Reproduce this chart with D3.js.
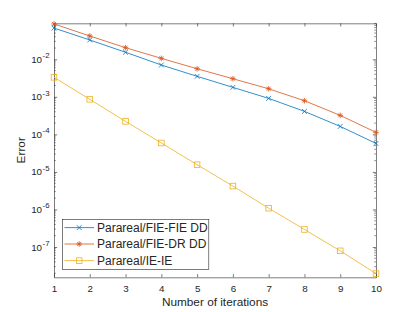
<!DOCTYPE html>
<html><head><meta charset="utf-8">
<script src="https://cdn.jsdelivr.net/npm/d3@7"></script>
<style>
body{margin:0;background:#fff;}
text{font-family:"Liberation Sans",Arial,sans-serif;fill:#262626;}
</style></head>
<body><svg id="c" width="415" height="312"></svg>
<script>
const iterations = [1,2,3,4,5,6,7,8,9,10];
const fieFieDD = [0.068,0.0327,0.0154,0.00705,0.00352,0.00179,0.00091,0.00041,0.000163,5.75e-5];
const fieDrDD = [0.0873,0.0418,0.0204,0.0106,0.0056,0.00304,0.00164,0.000787,0.000321,0.000113];
const ieIe = [0.00331,0.000858,0.000222,5.9e-5,1.56e-5,4.2e-6,1.08e-6,2.93e-7,7.9e-8,1.96e-8];
const seriesNames = ["Parareal/FIE-FIE DD","Parareal/FIE-DR DD","Parareal/IE-IE"];
const xTicks = [1,2,3,4,5,6,7,8,9,10];
const yTickExps = [-7,-6,-5,-4,-3,-2];
const yDomain = [Math.pow(10,-7.807), Math.pow(10,-1.041)];

const svg = d3.select("#c");
const L=54, R=376, T=23.3, B=277.3;
const x = d3.scaleLinear().domain([1,10]).range([L,R]);
const y = d3.scaleLog().domain(yDomain).range([B,T]);
const axisCol = "#262626";

const g = svg.append("g");
// minor ticks
const minor = [];
for(let e=-8;e<=-1;e++){ for(let m=2;m<=9;m++){ const v=m*Math.pow(10,e); if(v>=yDomain[0]&&v<=yDomain[1]) minor.push(v);} }
g.selectAll(".mnl").data(minor).join("line")
 .attr("x1",L).attr("x2",L+1.8).attr("y1",d=>y(d)).attr("y2",d=>y(d))
 .attr("stroke",axisCol).attr("stroke-width",0.5);
g.selectAll(".mnr").data(minor).join("line")
 .attr("x1",R).attr("x2",R-1.8).attr("y1",d=>y(d)).attr("y2",d=>y(d))
 .attr("stroke",axisCol).attr("stroke-width",0.5);

// axes
const ax = g.append("g").attr("transform",`translate(0,${B})`)
 .call(d3.axisBottom(x).tickValues(xTicks).tickFormat(d3.format("d")).tickSizeInner(-3.2).tickSizeOuter(0).tickPadding(8));
const axT = g.append("g").attr("transform",`translate(0,${T})`)
 .call(d3.axisTop(x).tickValues(xTicks).tickFormat("").tickSizeInner(-3.2).tickSizeOuter(0));
const yVals = yTickExps.map(e=>Math.pow(10,e));
const ay = g.append("g").attr("transform",`translate(${L},0)`)
 .call(d3.axisLeft(y).tickValues(yVals).tickFormat("").tickSizeInner(-3.2).tickSizeOuter(0));
const ayR = g.append("g").attr("transform",`translate(${R},0)`)
 .call(d3.axisRight(y).tickValues(yVals).tickFormat("").tickSizeInner(-3.2).tickSizeOuter(0));
[ax,axT,ay,ayR].forEach(a=>{
  a.selectAll("path").attr("stroke",axisCol).attr("stroke-width",0.6);
  a.selectAll("line").attr("stroke",axisCol).attr("stroke-width",0.6);
});
ax.selectAll("text").attr("font-size",9.8).attr("fill",axisCol).style("font-family","Liberation Sans, Arial, sans-serif");

// y tick labels with superscripts
const yl = g.append("g");
yTickExps.forEach(e=>{
  const t = yl.append("text").attr("x",L-4.5).attr("y",y(Math.pow(10,e))+3.5)
   .attr("text-anchor","end").attr("font-size",9.8);
  t.append("tspan").text("10");
  t.append("tspan").attr("dy",-4.5).attr("dx",0.5).attr("font-size",7.8).text(String(e));
});

// series
const colors = ["#0072BD","#D95319","#EDB120"];
const all = [fieFieDD, fieDrDD, ieIe];
const line = d3.line().x((d,i)=>x(iterations[i])).y(d=>y(d));
all.forEach((s,k)=>{
  g.append("path").attr("d",line(s)).attr("fill","none").attr("stroke",colors[k]).attr("stroke-width",0.8);
});
function marker(sel,k,cx,cy){
  const c=colors[k];
  if(k===0){
    const r=2.4;
    sel.append("path").attr("d",`M${cx-r},${cy-r}L${cx+r},${cy+r}M${cx-r},${cy+r}L${cx+r},${cy-r}`)
     .attr("stroke",c).attr("stroke-width",0.8).attr("fill","none");
  } else if(k===1){
    const r=2.8, r2=2.0;
    sel.append("path").attr("d",`M${cx-r},${cy}L${cx+r},${cy}M${cx},${cy-r}L${cx},${cy+r}M${cx-r2},${cy-r2}L${cx+r2},${cy+r2}M${cx-r2},${cy+r2}L${cx+r2},${cy-r2}`)
     .attr("stroke",c).attr("stroke-width",0.8).attr("fill","none");
  } else {
    const r=2.8;
    sel.append("rect").attr("x",cx-r).attr("y",cy-r).attr("width",2*r).attr("height",2*r)
     .attr("stroke",c).attr("stroke-width",0.8).attr("fill","none");
  }
}
all.forEach((s,k)=>{
  const mg=g.append("g");
  s.forEach((v,i)=>marker(mg,k,x(iterations[i]),y(v)));
});

// labels
svg.append("text").attr("x",(L+R)/2).attr("y",306).attr("text-anchor","middle").attr("font-size",11.8).text("Number of iterations");
svg.append("text").attr("transform",`translate(25,${(T+B)/2}) rotate(-90)`).attr("text-anchor","middle").attr("font-size",11.8).text("Error");

// legend
const lg = svg.append("g");
lg.append("rect").attr("x",62.3).attr("y",219.3).attr("width",146.5).attr("height",50)
 .attr("fill","#fff").attr("stroke",axisCol).attr("stroke-width",0.6);
const ly=[227.6,244,260.6];
seriesNames.forEach((n,k)=>{
  lg.append("line").attr("x1",64.5).attr("x2",94).attr("y1",ly[k]).attr("y2",ly[k]).attr("stroke",colors[k]).attr("stroke-width",0.8);
  marker(lg,k,79.2,ly[k]);
  lg.append("text").attr("x",97).attr("y",ly[k]+4.2).attr("font-size",12).text(n);
});
</script></body></html>
